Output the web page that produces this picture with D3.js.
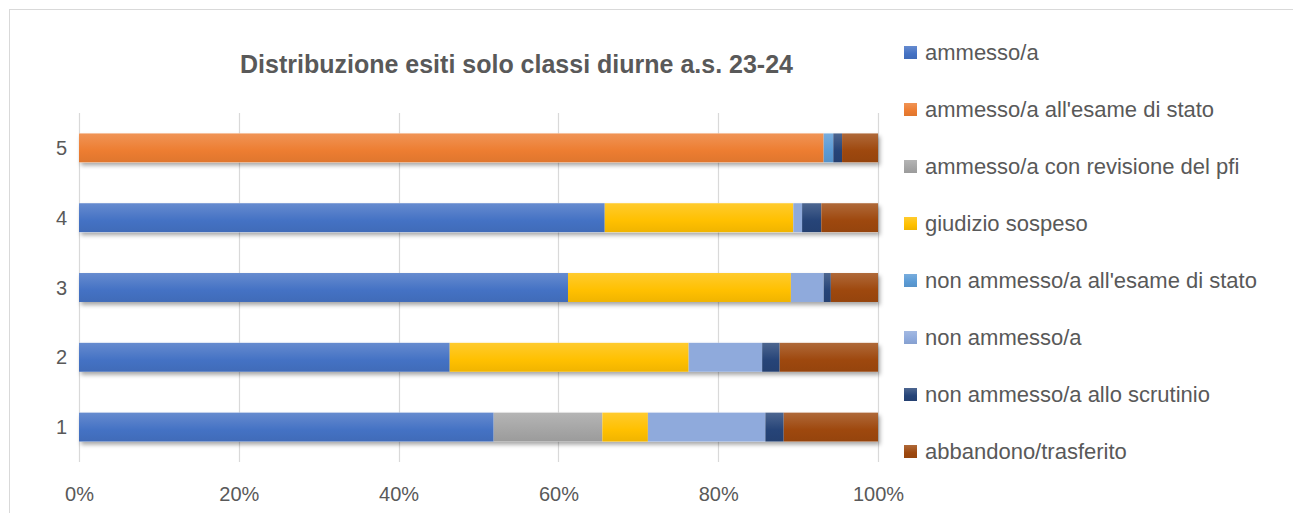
<!DOCTYPE html>
<html><head><meta charset="utf-8">
<script src="https://cdn.jsdelivr.net/npm/d3@7"></script>
<style>html,body{margin:0;padding:0;background:#fff;overflow:hidden}svg{display:block}</style>
</head><body>
<script>
const categories = ["1","2","3","4","5"];
const seriesNames = ["ammesso/a","ammesso/a all'esame di stato","ammesso/a con revisione del pfi","giudizio sospeso","non ammesso/a all'esame di stato","non ammesso/a","non ammesso/a allo scrutinio","abbandono/trasferito"];
const ammesso            = [51.9, 46.4, 61.2, 65.8, 0];
const ammessoEsame       = [0, 0, 0, 0, 93.2];
const ammessoRevisione   = [13.6, 0, 0, 0, 0];
const giudizioSospeso    = [5.7, 29.9, 27.9, 23.6, 0];
const nonAmmessoEsame    = [0, 0, 0, 0, 1.2];
const nonAmmesso         = [14.7, 9.2, 4.1, 1.1, 0];
const nonAmmessoScrutinio= [2.3, 2.2, 0.9, 2.4, 1.1];
const abbandono          = [11.8, 12.3, 5.9, 7.1, 4.5];
const xTicks = [0, 0.2, 0.4, 0.6, 0.8, 1];
const title = "Distribuzione esiti solo classi diurne a.s. 23-24";

const seriesValues = [ammesso, ammessoEsame, ammessoRevisione, giudizioSospeso, nonAmmessoEsame, nonAmmesso, nonAmmessoScrutinio, abbandono];
const colors = ["#4472C4","#ED7D31","#A5A5A5","#FFC000","#5B9BD5","#8FAADC","#264478","#9E480E"];

const W = 1293, H = 513;
const font = "'Liberation Sans', Arial, sans-serif";
const txt = "#595959";

const svg = d3.select("body").append("svg").attr("width", W).attr("height", H);
const defs = svg.append("defs");
colors.forEach((c, i) => {
  const g = defs.append("linearGradient").attr("id", "g" + i).attr("x1", 0).attr("y1", 0).attr("x2", 0).attr("y2", 1);
  g.append("stop").attr("offset", "0%").attr("stop-color", d3.interpolateRgb(c, "#fff")(0.18));
  g.append("stop").attr("offset", "60%").attr("stop-color", c);
  g.append("stop").attr("offset", "100%").attr("stop-color", d3.interpolateRgb(c, "#000")(0.06));
});
const f = defs.append("filter").attr("id", "sh").attr("x", "-5%").attr("y", "-30%").attr("width", "110%").attr("height", "180%");
f.append("feDropShadow").attr("dx", 2).attr("dy", 3).attr("stdDeviation", 2).attr("flood-color", "#000").attr("flood-opacity", 0.35);

svg.append("rect").attr("x", 9.5).attr("y", 9.5).attr("width", 1300).attr("height", 520)
  .attr("fill", "#fff").attr("stroke", "#d9d9d9").attr("stroke-width", 1);

const x = d3.scaleLinear().domain([0, 1]).range([79, 878]);
const y = d3.scaleBand().domain(categories.slice().reverse()).range([113, 462]).paddingInner(0.585).paddingOuter(0.2925);

// gridlines
svg.append("g").selectAll("line").data(xTicks).join("line")
  .attr("x1", d => Math.round(x(d)) + 0.5).attr("x2", d => Math.round(x(d)) + 0.5)
  .attr("y1", 113).attr("y2", 462).attr("stroke", "#d9d9d9").attr("stroke-width", 1.2);

// stack
const rows = categories.map((c, ci) => {
  const o = {cat: c};
  seriesNames.forEach((s, si) => o[s] = seriesValues[si][ci] / 100);
  return o;
});
const stacked = d3.stack().keys(seriesNames)(rows);

const gBars = svg.append("g");
gBars.selectAll("rect.sh").data(rows).join("rect").attr("class", "sh")
  .attr("x", x(0)).attr("y", d => y(d.cat))
  .attr("width", d => x(d3.sum(seriesNames, s => d[s])) - x(0))
  .attr("height", y.bandwidth()).attr("fill", "#fff").attr("filter", "url(#sh)");
stacked.forEach((layer, si) => {
  gBars.append("g").selectAll("rect").data(layer.filter(d => d[1] - d[0] > 0)).join("rect")
    .attr("x", d => x(d[0])).attr("y", d => y(d.data.cat))
    .attr("width", d => x(d[1]) - x(d[0])).attr("height", y.bandwidth())
    .attr("fill", si === 5 ? colors[si] : "url(#g" + si + ")");
});

// x axis
const xAxis = d3.axisBottom(x).tickValues(xTicks).tickFormat(d3.format(".0%")).tickSize(0).tickPadding(0);
const gx = svg.append("g").attr("transform", "translate(0,501)").call(xAxis);
gx.select(".domain").remove();
gx.selectAll("text").attr("dy", 0).attr("fill", txt).style("font-family", font).style("font-size", "20px");

// y axis
const yAxis = d3.axisLeft(y).tickSize(0).tickPadding(0);
const gy = svg.append("g").attr("transform", "translate(67,0)").call(yAxis);
gy.select(".domain").remove();
gy.selectAll("text").attr("dy", "0.35em").attr("fill", txt).style("font-family", font).style("font-size", "20px");

// title
svg.append("text").attr("x", 516.5).attr("y", 73).attr("text-anchor", "middle")
  .attr("fill", txt).style("font-family", font).style("font-size", "25px").style("font-weight", "bold").text(title);

// legend
const ly = d3.scalePoint().domain(seriesNames).range([52, 451]);
const lg = svg.append("g").selectAll("g").data(seriesNames).join("g")
  .attr("transform", d => `translate(904,${ly(d)})`);
lg.append("rect").attr("x", 0).attr("y", -6).attr("width", 13).attr("height", 13)
  .attr("fill", (d, i) => "url(#g" + i + ")");
lg.append("text").attr("x", 21).attr("dy", "0.35em").attr("fill", txt)
  .style("font-family", font).style("font-size", "22px").text(d => d);
</script>
</body></html>
